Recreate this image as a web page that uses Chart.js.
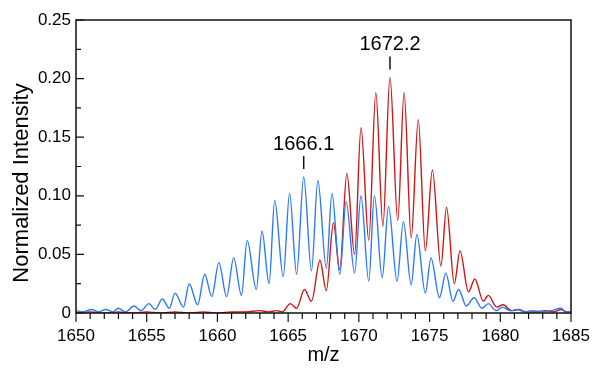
<!DOCTYPE html>
<html>
<head>
<meta charset="utf-8">
<script src="https://cdn.jsdelivr.net/npm/chart.js@4"></script>
<style>
  html, body { margin: 0; padding: 0; background: #fff; }
  #wrap { width: 593px; height: 370px; position: relative; }
</style>
</head>
<body>
<div id="wrap"><canvas id="spectrum"></canvas></div>
<script>
// Spectra: peak tops and valleys (m/z, normalized intensity)
const blueMz = [1650.0, 1650.5, 1651.1, 1651.6, 1652.1, 1652.6, 1653.0, 1653.5, 1654.1, 1654.6,
  1655.15, 1655.6, 1656.1, 1656.6, 1657.0, 1657.6, 1658.0, 1658.6, 1659.1, 1659.6,
  1660.1, 1660.65, 1661.15, 1661.7, 1662.1, 1662.75, 1663.15, 1663.65, 1664.05, 1664.65,
  1665.1, 1665.6, 1666.1, 1666.65, 1667.1, 1667.7, 1668.1, 1668.65, 1669.1, 1669.7,
  1670.15, 1670.7, 1671.1, 1671.65, 1672.1, 1672.7, 1673.15, 1673.7, 1674.1, 1674.7,
  1675.1, 1675.7, 1676.15, 1676.65, 1677.05, 1677.6, 1678.15, 1678.7, 1679.15, 1679.7,
  1680.15, 1680.7, 1681.2, 1681.7, 1682.3, 1683.0, 1683.6, 1684.3, 1684.6, 1685.0];
const blueInt = [0.002, 0.001, 0.003, 0.001, 0.003, 0.001, 0.004, 0.001, 0.006, 0.002,
  0.008, 0.003, 0.012, 0.004, 0.017, 0.005, 0.025, 0.007, 0.033, 0.014,
  0.043, 0.014, 0.047, 0.015, 0.062, 0.020, 0.070, 0.025, 0.096, 0.031,
  0.102, 0.033, 0.116, 0.036, 0.113, 0.038, 0.102, 0.033, 0.095, 0.034,
  0.100, 0.027, 0.100, 0.030, 0.091, 0.027, 0.078, 0.024, 0.067, 0.017,
  0.047, 0.013, 0.034, 0.010, 0.020, 0.006, 0.013, 0.004, 0.008, 0.002,
  0.005, 0.002, 0.003, 0.001, 0.002, 0.001, 0.002, 0.004, 0.001, 0.001];

const redMz = [1650.0, 1651.0, 1652.0, 1653.0, 1654.0, 1655.0, 1656.0, 1657.0, 1658.0, 1659.0,
  1660.0, 1661.0, 1662.0, 1663.0, 1663.6, 1664.2, 1664.6, 1665.15, 1665.6, 1666.15,
  1666.65, 1667.25, 1667.7, 1668.2, 1668.65, 1669.15, 1669.7, 1670.15, 1670.7, 1671.2,
  1671.7, 1672.2, 1672.75, 1673.2, 1673.7, 1674.2, 1674.7, 1675.2, 1675.8, 1676.2,
  1676.75, 1677.15, 1677.75, 1678.2, 1678.8, 1679.15, 1679.75, 1680.2, 1680.8, 1681.3,
  1681.8, 1682.5, 1683.2, 1683.8, 1684.3, 1684.7, 1685.0];
const redInt = [0.000, 0.001, 0.000, 0.001, 0.000, 0.001, 0.000, 0.001, 0.000, 0.001,
  0.000, 0.001, 0.001, 0.002, 0.001, 0.002, 0.001, 0.008, 0.004, 0.020,
  0.010, 0.045, 0.019, 0.077, 0.037, 0.119, 0.050, 0.158, 0.062, 0.188,
  0.074, 0.201, 0.079, 0.188, 0.064, 0.165, 0.053, 0.122, 0.040, 0.090,
  0.025, 0.053, 0.018, 0.029, 0.010, 0.015, 0.005, 0.007, 0.002, 0.003,
  0.001, 0.001, 0.002, 0.001, 0.003, 0.001, 0.001];

const xTicks = [1650, 1655, 1660, 1665, 1670, 1675, 1680, 1685];
const yTicks = [0, 0.05, 0.10, 0.15, 0.20, 0.25];
const yTickLabels = ['0', '0.05', '0.10', '0.15', '0.20', '0.25'];

// peak labels: text, m/z and which series (0 = blue, 1 = red)
const peakLabels = ['1666.1', '1672.2'];
const peakMz = [1666.1, 1672.2];
const peakSeries = [0, 1];

const FONT = "'Liberation Sans', Arial, sans-serif";
const BLUE = '#2a7aff';
const RED = '#d01515';

const toPoints = (xs, ys) => xs.map((v, i) => ({ x: v, y: ys[i] }));

// frame, inward/outward ticks, y title and peak labels
const marks = {
  id: 'marks',
  afterDatasetsDraw(chart) {
    const { ctx, chartArea: a, scales: { x, y } } = chart;
    ctx.save();
    ctx.strokeStyle = '#111';
    ctx.lineWidth = 1.5;
    ctx.strokeRect(a.left, a.top, a.right - a.left, a.bottom - a.top);

    ctx.lineWidth = 1.2;
    ctx.beginPath();
    for (let v = xTicks[0]; v <= xTicks[xTicks.length - 1]; v++) {
      const px = x.getPixelForValue(v);
      const len = xTicks.includes(v) ? 9 : 6;
      ctx.moveTo(px, a.bottom);
      ctx.lineTo(px, a.bottom + len);
    }
    yTicks.forEach((v, i) => {
      const py = y.getPixelForValue(v);
      ctx.moveTo(a.left, py);
      ctx.lineTo(a.left + 8, py);
      if (i < yTicks.length - 1) {
        const pm = y.getPixelForValue((v + yTicks[i + 1]) / 2);
        ctx.moveTo(a.left, pm);
        ctx.lineTo(a.left + 5, pm);
      }
    });
    ctx.stroke();

    // peak labels
    ctx.fillStyle = '#000';
    ctx.font = '20px ' + FONT;
    ctx.textAlign = 'center';
    ctx.textBaseline = 'alphabetic';
    ctx.lineWidth = 1.5;
    peakLabels.forEach((txt, i) => {
      const ds = chart.data.datasets[peakSeries[i]].data;
      let best = ds[0];
      ds.forEach(p => { if (Math.abs(p.x - peakMz[i]) < Math.abs(best.x - peakMz[i])) best = p; });
      const px = x.getPixelForValue(peakMz[i]);
      const py = y.getPixelForValue(best.y);
      ctx.beginPath();
      ctx.moveTo(px, py - 8);
      ctx.lineTo(px, py - 21);
      ctx.stroke();
      ctx.fillText(txt, px, py - 27);
    });

    // y axis title
    ctx.translate(22, 183);
    ctx.rotate(-Math.PI / 2);
    ctx.font = '22px ' + FONT;
    ctx.textBaseline = 'middle';
    ctx.fillText('Normalized Intensity', 0, 0);
    ctx.restore();
  }
};

new Chart(document.getElementById('spectrum'), {
  type: 'line',
  data: {
    datasets: [
      {
        label: 'blue',
        data: toPoints(blueMz, blueInt),
        borderColor: BLUE,
        borderWidth: 1.4,
        pointRadius: 0,
        cubicInterpolationMode: 'monotone',
        order: 0
      },
      {
        label: 'red',
        data: toPoints(redMz, redInt),
        borderColor: RED,
        borderWidth: 1.4,
        pointRadius: 0,
        cubicInterpolationMode: 'monotone',
        order: 1
      }
    ]
  },
  options: {
    responsive: true,
    maintainAspectRatio: false,
    animation: false,
    layout: { padding: { top: 20, right: 22, left: 0, bottom: 0 } },
    plugins: { legend: { display: false }, tooltip: { enabled: false } },
    scales: {
      x: {
        type: 'linear',
        min: 1650,
        max: 1685,
        afterBuildTicks: s => { s.ticks = xTicks.map(v => ({ value: v })); },
        afterFit: s => { s.height = 57; s.paddingLeft = 0; s.paddingRight = 0; },
        ticks: {
          color: '#000',
          font: { family: FONT, size: 17 },
          padding: 13,
          maxRotation: 0,
          autoSkip: false,
          callback: v => String(v)
        },
        grid: { display: false, drawTicks: false },
        border: { display: false },
        title: {
          display: true,
          text: 'm/z',
          color: '#000',
          font: { family: FONT, size: 20 },
          padding: { top: 0, bottom: 3 }
        }
      },
      y: {
        min: 0,
        max: 0.25,
        afterBuildTicks: s => { s.ticks = yTicks.map(v => ({ value: v })); },
        afterFit: s => { s.width = 76; s.paddingTop = 0; s.paddingBottom = 0; },
        ticks: {
          color: '#000',
          font: { family: FONT, size: 17 },
          padding: 5,
          callback: v => yTickLabels[yTicks.indexOf(v)]
        },
        grid: { display: false, drawTicks: false },
        border: { display: false }
      }
    }
  },
  plugins: [marks]
});
</script>
</body>
</html>
